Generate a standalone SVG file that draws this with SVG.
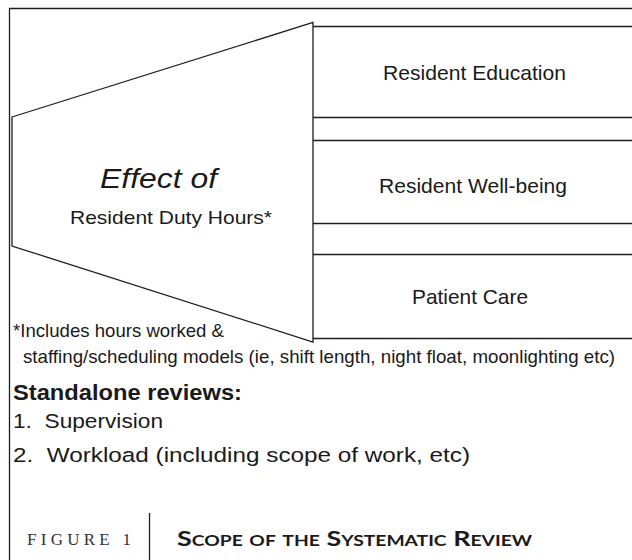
<svg xmlns="http://www.w3.org/2000/svg" width="632" height="560" viewBox="0 0 632 560">
<style>
.ln{stroke:#1e1e1e;stroke-width:1.3;fill:none}
.sh{fill:#fff;stroke:#1e1e1e;stroke-width:1.3}
.t{font-family:"Liberation Sans",Arial,sans-serif;fill:#1a1a1a}
.lab{font-size:21px}
.note{font-size:19px}
.list{font-size:20.5px}
</style>
<rect width="632" height="560" fill="#fff"/>
<g id="frame">
<path class="ln" d="M9,8.5H632M9.5,8V560"/>
</g>
<g id="effect">
<polygon class="sh" points="12,117 313,22.5 313,342 12,246"/>
<text class="t" x="100" y="188" font-size="28" font-style="italic" textLength="117" lengthAdjust="spacingAndGlyphs">Effect of</text>
<text class="t" x="70" y="224" font-size="18.5" textLength="202" lengthAdjust="spacingAndGlyphs">Resident Duty Hours*</text>
</g>
<g id="education">
<path class="ln" d="M313,26.5H632M313,117.5H632"/>
<text class="t lab" x="383" y="80" textLength="183" lengthAdjust="spacingAndGlyphs">Resident Education</text>
</g>
<g id="wellbeing">
<path class="ln" d="M313,140.5H632M313,223.5H632"/>
<text class="t lab" x="379" y="193" textLength="188" lengthAdjust="spacingAndGlyphs">Resident Well-being</text>
</g>
<g id="patient-care">
<path class="ln" d="M313,254.5H632M313,338.5H632"/>
<text class="t lab" x="412" y="304" textLength="116" lengthAdjust="spacingAndGlyphs">Patient Care</text>
</g>
<g id="connectors"></g>
<g id="notes">
<text class="t note" x="13" y="337" textLength="211" lengthAdjust="spacingAndGlyphs">*Includes hours worked &amp;</text>
<text class="t note" x="23" y="363" textLength="592" lengthAdjust="spacingAndGlyphs">staffing/scheduling models (ie, shift length, night float, moonlighting etc)</text>
<text class="t" x="13" y="400" font-size="22" font-weight="bold" textLength="229" lengthAdjust="spacingAndGlyphs">Standalone reviews:</text>
<text class="t list" x="13" y="428" textLength="150" lengthAdjust="spacingAndGlyphs" xml:space="preserve">1.  Supervision</text>
<text class="t list" x="13" y="462" textLength="457" lengthAdjust="spacingAndGlyphs" xml:space="preserve">2.  Workload (including scope of work, etc)</text>
</g>
<g id="caption">
<path class="ln" d="M149.5,513V560"/>
<text x="27" y="545" font-family="'Liberation Serif','Times New Roman',serif" font-size="17" fill="#333" textLength="104" lengthAdjust="spacing">FIGURE 1</text>
<text x="177" y="546" font-family="Lato,'Open Sans',sans-serif" font-size="21" font-weight="bold" font-variant="small-caps" fill="#1a1a1a" textLength="355" lengthAdjust="spacingAndGlyphs">Scope of the Systematic Review</text>
</g>
</svg>
